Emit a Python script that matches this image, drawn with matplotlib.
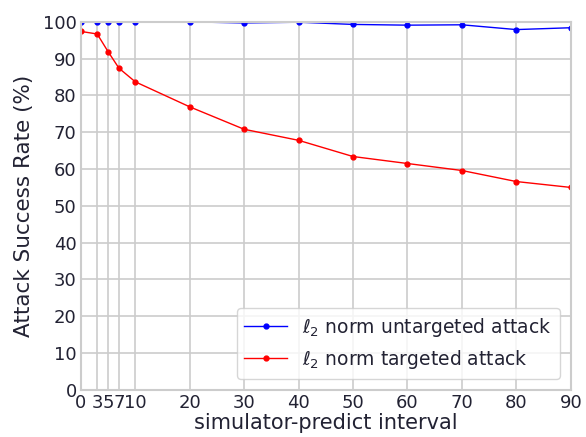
import matplotlib.pyplot as plt
import matplotlib as mpl

mpl.rcParams['font.family'] = 'DejaVu Sans'
mpl.rcParams['mathtext.fontset'] = 'dejavusans'

# data
intervals = [0, 3, 5, 7, 10, 20, 30, 40, 50, 60, 70, 80, 90]
untargeted = [100, 100, 100, 100, 100, 100, 99.7, 99.9, 99.3, 99.1, 99.2, 97.9, 98.4]
targeted = [97.4, 96.7, 91.9, 87.4, 83.7, 76.9, 70.8, 67.8, 63.4, 61.5, 59.6, 56.6, 55.0]
xtick_vals = [0, 3, 5, 7, 10, 20, 30, 40, 50, 60, 70, 80, 90]
xtick_labels = ['0', '3', '5', '7', '10', '20', '30', '40', '50', '60', '70', '80', '90']

fig = plt.figure(figsize=(5.86, 4.37), dpi=100)
ax = fig.add_axes([0.138, 0.108, 0.836, 0.842])

ax.plot(intervals, untargeted, color='blue', marker='.', markersize=7, linewidth=1,
        label=r'$\ell_2$ norm untargeted attack')
ax.plot(intervals, targeted, color='red', marker='.', markersize=7, linewidth=1,
        label=r'$\ell_2$ norm targeted attack')

ax.set_xlim(0, 90)
ax.set_ylim(0, 100)
ax.set_xticks(xtick_vals)
ax.set_xticklabels(xtick_labels)
ax.set_yticks(range(0, 101, 10))
ax.grid(True, color='#cccccc', linewidth=1.2)
ax.set_axisbelow(True)
for s in ax.spines.values():
    s.set_color('#cccccc')
    s.set_linewidth(1.5)
ax.tick_params(length=0, labelsize=13, pad=3, labelcolor='#222233')
ax.set_xlabel('simulator-predict interval', fontsize=15, labelpad=1, color='#222233')
ax.set_ylabel('Attack Success Rate (%)', fontsize=15.5, labelpad=6, color='#222233')
leg = ax.legend(loc='lower right', fontsize=13.5, handlelength=2.3, borderaxespad=0.6)
for t in leg.get_texts():
    t.set_color('#222233')

fig.savefig('out.png', dpi=100)
